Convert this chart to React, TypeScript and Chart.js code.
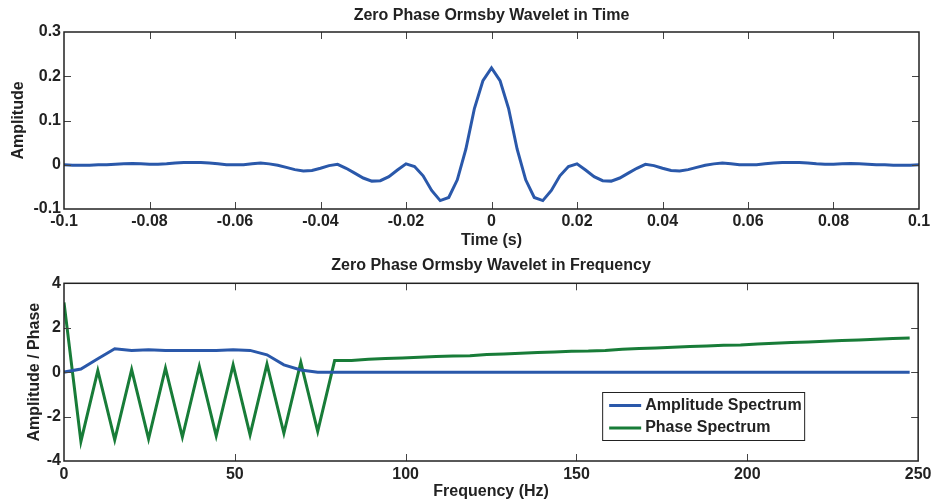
import React, { useEffect, useRef } from "react";
import { Chart, registerables } from "chart.js";

Chart.register(...registerables);

// ---- Time-domain wavelet ----
const timeS = [
  -0.1, -0.098, -0.096, -0.094, -0.092, -0.09, -0.088, -0.086, -0.084, -0.082,
  -0.08, -0.078, -0.076, -0.074, -0.072, -0.07, -0.068, -0.066, -0.064, -0.062,
  -0.06, -0.058, -0.056, -0.054, -0.052, -0.05, -0.048, -0.046, -0.044, -0.042,
  -0.04, -0.038, -0.036, -0.034, -0.032, -0.03, -0.028, -0.026, -0.024, -0.022,
  -0.02, -0.018, -0.016, -0.014, -0.012, -0.01, -0.008, -0.006, -0.004, -0.002,
  0,
  0.002, 0.004, 0.006, 0.008, 0.01, 0.012, 0.014, 0.016, 0.018, 0.02,
  0.022, 0.024, 0.026, 0.028, 0.03, 0.032, 0.034, 0.036, 0.038, 0.04,
  0.042, 0.044, 0.046, 0.048, 0.05, 0.052, 0.054, 0.056, 0.058, 0.06,
  0.062, 0.064, 0.066, 0.068, 0.07, 0.072, 0.074, 0.076, 0.078, 0.08,
  0.082, 0.084, 0.086, 0.088, 0.09, 0.092, 0.094, 0.096, 0.098, 0.1,
];

const waveletAmp = [
  0.0, -0.001, -0.001, -0.001, 0.0, 0.0, 0.001, 0.002, 0.003, 0.002,
  0.001, 0.001, 0.002, 0.004, 0.005, 0.005, 0.005, 0.004, 0.002, 0.0,
  0.0, 0.0, 0.002, 0.004, 0.002, -0.001, -0.006, -0.011, -0.014, -0.013,
  -0.008, -0.002, 0.001, -0.008, -0.019, -0.03, -0.037, -0.036, -0.027, -0.012,
  0.002, -0.004, -0.025, -0.058, -0.081, -0.074, -0.034, 0.035, 0.127, 0.19,
  0.219,
  0.19, 0.127, 0.035, -0.034, -0.074, -0.081, -0.058, -0.025, -0.004, 0.002,
  -0.012, -0.027, -0.036, -0.037, -0.03, -0.019, -0.008, 0.001, -0.002, -0.008,
  -0.013, -0.014, -0.011, -0.006, -0.001, 0.002, 0.004, 0.002, 0.0, 0.0,
  0.0, 0.002, 0.004, 0.005, 0.005, 0.005, 0.004, 0.002, 0.001, 0.001,
  0.002, 0.003, 0.002, 0.001, 0.0, 0.0, -0.001, -0.001, -0.001, 0.0,
];

// ---- Frequency-domain spectra ----
const freqHz = [
  0, 4.95, 9.9, 14.85, 19.8, 24.75, 29.7, 34.65, 39.6, 44.55,
  49.5, 54.46, 59.41, 64.36, 69.31, 74.26, 79.21, 84.16, 89.11, 94.06,
  99.01, 103.96, 108.91, 113.86, 118.81, 123.76, 128.71, 133.66, 138.61, 143.56,
  148.51, 153.47, 158.42, 163.37, 168.32, 173.27, 178.22, 183.17, 188.12, 193.07,
  198.02, 202.97, 207.92, 212.87, 217.82, 222.77, 227.72, 232.67, 237.62, 242.57,
  247.52,
];

const ampSpectrum = [
  0, 0.14, 0.6, 1.05, 0.98, 1.01, 0.98, 0.98, 0.98, 0.98,
  1.01, 0.98, 0.78, 0.33, 0.1, 0.0, 0, 0, 0, 0,
  0, 0, 0, 0, 0, 0, 0, 0, 0, 0,
  0, 0, 0, 0, 0, 0, 0, 0, 0, 0,
  0, 0, 0, 0, 0, 0, 0, 0, 0, 0,
  0,
];

const phaseSpectrum = [
  3.14, -3.12, 0.07, -3.05, 0.11, -3.0, 0.18, -2.92, 0.26, -2.87,
  0.33, -2.82, 0.36, -2.75, 0.44, -2.67, 0.52, 0.53, 0.58, 0.61,
  0.64, 0.67, 0.7, 0.73, 0.74, 0.79, 0.82, 0.85, 0.88, 0.91,
  0.94, 0.95, 0.98, 1.03, 1.06, 1.09, 1.12, 1.15, 1.18, 1.21,
  1.22, 1.27, 1.3, 1.33, 1.36, 1.39, 1.42, 1.45, 1.48, 1.51,
  1.54,
];

const timeTitle = "Zero Phase Ormsby Wavelet in Time";
const freqTitle = "Zero Phase Ormsby Wavelet in Frequency";
const seriesLabels = ["Amplitude Spectrum", "Phase Spectrum"];

const BLUE = "rgb(42, 88, 170)";
const GREEN = "rgb(24, 124, 56)";
const TEXT = "#222";
const FAMILY = '"Liberation Sans", Arial, Helvetica, sans-serif';
const font = (size: number) => ({ family: FAMILY, size, weight: "bold" as const, lineHeight: 1.2 });

const fmt = (v: any) => String(Math.round(Number(v) * 100) / 100);

// Title centred over the plot area (MATLAB style)
const areaTitlePlugin = {
  id: "areaTitle",
  afterDraw(chart: any) {
    const opt = chart.config.options.plugins.areaTitle;
    if (!opt || !opt.text) return;
    const { ctx, chartArea: a } = chart;
    ctx.save();
    ctx.font = `bold 16px ${FAMILY}`;
    ctx.fillStyle = TEXT;
    ctx.textAlign = "center";
    ctx.textBaseline = "middle";
    ctx.fillText(opt.text, (a.left + a.right) / 2, opt.y);
    ctx.restore();
  },
};

const boxPlugin = {
  id: "matlabBox",
  afterDatasetsDraw(chart: any) {
    const { ctx, chartArea: a, scales } = chart;
    const L = 7;
    ctx.save();
    ctx.strokeStyle = "#444";
    ctx.lineWidth = 1;
    ctx.beginPath();
    const xs = scales.x;
    xs.ticks.forEach((t: any) => {
      const px = Math.round(xs.getPixelForValue(t.value)) + 0.5;
      if (px <= a.left + 2 || px >= a.right - 2) return;
      ctx.moveTo(px, a.bottom);
      ctx.lineTo(px, a.bottom - L);
      ctx.moveTo(px, a.top);
      ctx.lineTo(px, a.top + L);
    });
    const ys = scales.y;
    ys.ticks.forEach((t: any) => {
      const py = Math.round(ys.getPixelForValue(t.value)) + 0.5;
      if (py <= a.top + 2 || py >= a.bottom - 2) return;
      ctx.moveTo(a.left, py);
      ctx.lineTo(a.left + L, py);
      ctx.moveTo(a.right, py);
      ctx.lineTo(a.right - L, py);
    });
    ctx.stroke();
    ctx.strokeStyle = "#222";
    ctx.lineWidth = 1.5;
    ctx.strokeRect(a.left, a.top, a.right - a.left, a.bottom - a.top);
    ctx.restore();
  },
};

const legendPlugin = {
  id: "boxedLegend",
  afterDraw(chart: any) {
    if (chart.config.options.plugins.boxedLegend?.show !== true) return;
    const { ctx, chartArea: a } = chart;
    const w = 202;
    const h = 48;
    const x0 = a.right - 114 - w;
    const y0 = a.bottom - 21 - h;
    ctx.save();
    ctx.fillStyle = "#fff";
    ctx.fillRect(x0, y0, w, h);
    ctx.strokeStyle = "#222";
    ctx.lineWidth = 1;
    ctx.strokeRect(x0 + 0.5, y0 + 0.5, w, h);
    ctx.font = `bold 16px ${FAMILY}`;
    ctx.textBaseline = "middle";
    ctx.textAlign = "left";
    chart.data.datasets.forEach((ds: any, i: number) => {
      const cy = y0 + 13.5 + i * 22.5;
      ctx.strokeStyle = ds.borderColor;
      ctx.lineWidth = 3;
      ctx.beginPath();
      ctx.moveTo(x0 + 7, cy);
      ctx.lineTo(x0 + 39, cy);
      ctx.stroke();
      ctx.fillStyle = TEXT;
      ctx.fillText(ds.label, x0 + 43, cy);
    });
    ctx.restore();
  },
};

function baseScale(min: number, max: number, step: number, title: string, isX: boolean, extra: any) {
  return {
    type: "linear",
    min,
    max,
    ticks: {
      stepSize: step,
      autoSkip: false,
      maxRotation: 0,
      padding: extra.tickPad,
      color: TEXT,
      font: font(16),
      callback: fmt,
    },
    grid: { display: false, drawTicks: false },
    border: { display: false },
    title: { display: true, text: title, color: TEXT, font: font(16), padding: extra.titlePad },
    afterFit: (s: any) => {
      if (isX) s.height = extra.size;
      else s.width = extra.size;
    },
  };
}

function TimeChart() {
  const ref = useRef<HTMLCanvasElement>(null);
  useEffect(() => {
    const chart = new Chart(ref.current as HTMLCanvasElement, {
      type: "line",
      data: {
        datasets: [
          {
            label: "Wavelet",
            data: timeS.map((t, i) => ({ x: t, y: waveletAmp[i] })),
            borderColor: BLUE,
            borderWidth: 3,
            pointRadius: 0,
            tension: 0,
          },
        ],
      },
      options: {
        animation: false,
        responsive: false,
        layout: { padding: { left: 0, right: 16, top: 32, bottom: 0 } },
        plugins: {
          legend: { display: false },
          tooltip: { enabled: false },
          title: { display: false },
          areaTitle: { text: timeTitle, y: 16 },
        },
        scales: {
          x: baseScale(-0.1, 0.1, 0.02, "Time (s)", true, { size: 41, tickPad: 3, titlePad: { top: 0, bottom: 0 } }),
          y: baseScale(-0.1, 0.3, 0.1, "Amplitude", false, { size: 64, tickPad: 3, titlePad: { top: 9, bottom: 0 } }),
        },
      } as any,
      plugins: [boxPlugin, areaTitlePlugin],
    });
    return () => chart.destroy();
  }, []);
  return <canvas ref={ref} width={935} height={250} style={{ display: "block" }} />;
}

function FreqChart() {
  const ref = useRef<HTMLCanvasElement>(null);
  useEffect(() => {
    const chart = new Chart(ref.current as HTMLCanvasElement, {
      type: "line",
      data: {
        datasets: [
          {
            label: seriesLabels[0],
            data: freqHz.map((f, i) => ({ x: f, y: ampSpectrum[i] })),
            borderColor: BLUE,
            borderWidth: 3,
            pointRadius: 0,
            tension: 0,
          },
          {
            label: seriesLabels[1],
            data: freqHz.map((f, i) => ({ x: f, y: phaseSpectrum[i] })),
            borderColor: GREEN,
            borderWidth: 3,
            pointRadius: 0,
            tension: 0,
          },
        ],
      },
      options: {
        animation: false,
        responsive: false,
        layout: { padding: { left: 0, right: 16, top: 33.3, bottom: 0 } },
        plugins: {
          legend: { display: false },
          tooltip: { enabled: false },
          title: { display: false },
          boxedLegend: { show: true },
          areaTitle: { text: freqTitle, y: 16 },
        },
        scales: {
          x: baseScale(0, 250, 50, "Frequency (Hz)", true, { size: 40, tickPad: 3.5, titlePad: { top: 0, bottom: 0 } }),
          y: baseScale(-4, 4, 2, "Amplitude / Phase", false, { size: 64, tickPad: 3, titlePad: { top: 24.5, bottom: 0 } }),
        },
      } as any,
      plugins: [boxPlugin, legendPlugin, areaTitlePlugin],
    });
    return () => chart.destroy();
  }, []);
  return <canvas ref={ref} width={935} height={251} style={{ display: "block" }} />;
}

export default function App() {
  return (
    <div style={{ position: "absolute", left: 0, top: 0, width: 935, height: 501, background: "#fff" }}>
      <TimeChart />
      <FreqChart />
    </div>
  );
}
